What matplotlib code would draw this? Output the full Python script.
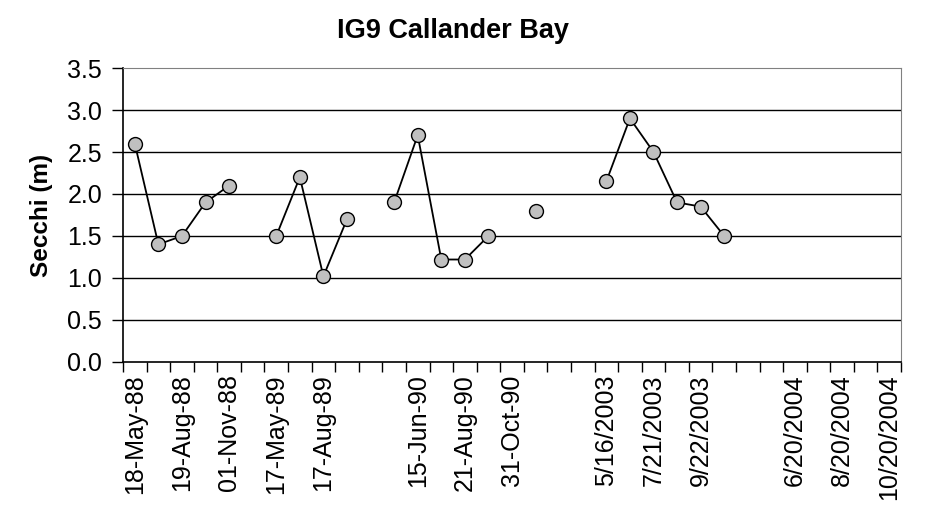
import numpy as np
import matplotlib.pyplot as plt

plt.rcParams['font.family'] = ['Liberation Sans', 'DejaVu Sans']

# category labels (Excel shows every other one)
dates = ['18-May-88', '', '19-Aug-88', '', '01-Nov-88', '', '17-May-89', '',
         '17-Aug-89', '', '', '', '15-Jun-90', '', '21-Aug-90', '', '31-Oct-90',
         '', '', '', '5/16/2003', '', '7/21/2003', '', '9/22/2003', '', '',
         '', '6/20/2004', '', '8/20/2004', '', '10/20/2004']

secchi = [2.6, 1.4, 1.5, 1.9, 2.1, None, 1.5, 2.2, 1.02, 1.7, None,
          1.9, 2.7, 1.22, 1.22, 1.5, None, 1.8, None, None,
          2.15, 2.9, 2.5, 1.9, 1.85, 1.5, None, None, None, None, None, None, None]

y = np.array([np.nan if v is None else v for v in secchi])
x = np.arange(len(dates))

fig = plt.figure(figsize=(9.27, 5.24), dpi=100)
ax = fig.add_axes([0.1327, 0.3092, 0.8393, 0.561])

for v in [0.5, 1.0, 1.5, 2.0, 2.5, 3.0]:
    ax.axhline(v, color='black', linewidth=1.0, zorder=1)

ax.plot(x, y, color='black', linewidth=1.3, marker='o', markersize=10,
        markerfacecolor='#c0c0c0', markeredgecolor='black', markeredgewidth=1.0,
        zorder=3)

ax.set_xlim(-0.5, len(dates) - 0.5)
ax.set_ylim(0, 3.5)
ax.set_yticks(np.arange(0, 3.51, 0.5))
ax.set_yticklabels([f'{t:.1f}' for t in np.arange(0, 3.51, 0.5)], fontsize=18)

ax.set_xticks(x)
ax.set_xticklabels(dates, rotation=90, fontsize=18)
ax.set_xticks(np.arange(-0.5, len(dates), 1), minor=True)
ax.tick_params(axis='x', which='major', length=0, pad=9)
ax.tick_params(axis='x', which='minor', length=7, width=1, color='black')
ax.tick_params(axis='y', length=8, width=1, pad=7)

ax.spines['top'].set_color('#808080')
ax.spines['right'].set_color('#808080')
ax.spines['left'].set_linewidth(1.2)
ax.spines['bottom'].set_linewidth(1.2)

ax.set_ylabel('Secchi (m)', fontsize=17.5, fontweight='bold', labelpad=10)
fig.text(0.489, 0.94, 'IG9 Callander Bay', ha='center', va='center',
         fontsize=19.5, fontweight='bold')

fig.savefig('out.png', dpi=100)
